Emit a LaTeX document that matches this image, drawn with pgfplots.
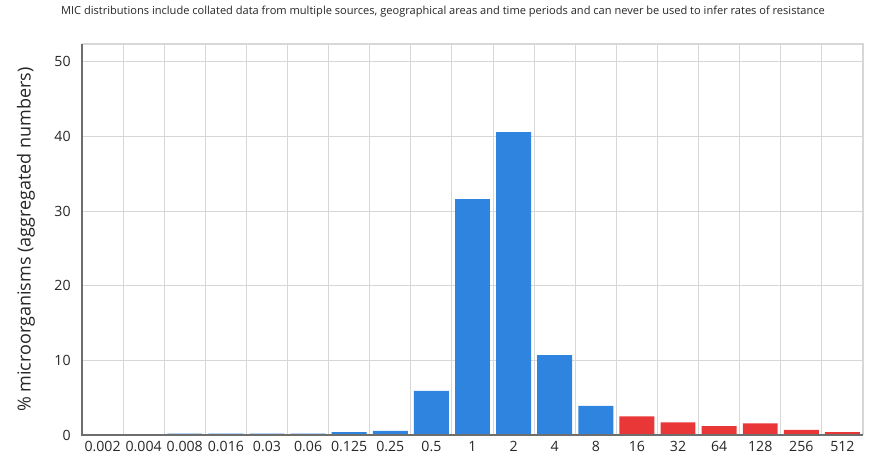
\documentclass[border=0pt]{standalone}
\usepackage{pgfplots}
\pgfplotsset{compat=1.18}
\usepackage{fontspec}
\setmainfont{Open Sans}
\definecolor{barblue}{RGB}{46,132,222}
\definecolor{barred}{RGB}{233,55,55}
\definecolor{gridgray}{RGB}{215,215,215}
\definecolor{axisgray}{RGB}{110,110,110}
\begin{document}
\begin{tikzpicture}[x=0.75pt,y=0.75pt]
\useasboundingbox (0,0) rectangle (869,463);
\begin{axis}[
  at={(82*0.75pt,28*0.75pt)}, anchor=south west,
  scale only axis,
  width=781*0.75pt, height=391*0.75pt,
  xmin=-0.5, xmax=18.5, ymin=0, ymax=52.4,
  xtick={0,...,18},
  xticklabels={0.002,0.004,0.008,0.016,0.03,0.06,0.125,0.25,0.5,1,2,4,8,16,32,64,128,256,512},
  minor xtick={-0.5,0.5,...,18.5},
  ytick={0,10,20,30,40,50},
  ymajorgrids, xminorgrids,
  major grid style={gridgray, line width=0.8pt},
  minor grid style={gridgray, line width=0.8pt},
  axis line style={draw=none},
  major tick length=0pt, minor tick length=0pt,
  tick label style={font=\fontsize{10.6}{12}\selectfont, text=black!85},
  /pgf/number format/assume math mode=true,
  xticklabel style={yshift=-1pt},
  yticklabel style={xshift=-5pt},
  ylabel={\% microorganisms (aggregated numbers)},
  ylabel style={font=\fontsize{13.5}{15}\selectfont, text=black!85, at={(rel axis cs:0,0.5)}, anchor=center, rotate=0, yshift=42pt},
  ybar, bar width=0.85, bar shift=0pt,
  clip=false,
]
\addplot[draw=none, fill=barblue] coordinates {
(0,0) (1,0) (2,0.2) (3,0.2) (4,0.2) (5,0.2) (6,0.4) (7,0.55) (8,5.9)
(9,31.6) (10,40.6) (11,10.7) (12,3.9)};
\addplot[draw=none, fill=barred] coordinates {
(13,2.5) (14,1.7) (15,1.2) (16,1.55) (17,0.7) (18,0.4)};
\draw[gridgray, line width=0.8pt] (rel axis cs:0,1) -- (rel axis cs:1,1) -- (rel axis cs:1,0);
\draw[axisgray, line width=1pt] (rel axis cs:0,1) -- (rel axis cs:0,0) -- (rel axis cs:1,0);
\end{axis}
\node[font=\fontsize{8.3}{10}\selectfont, text=black!85] at (443,463-12) {MIC distributions include collated data from multiple sources, geographical areas and time periods and can never be used to infer rates of resistance};
\end{tikzpicture}
\end{document}
